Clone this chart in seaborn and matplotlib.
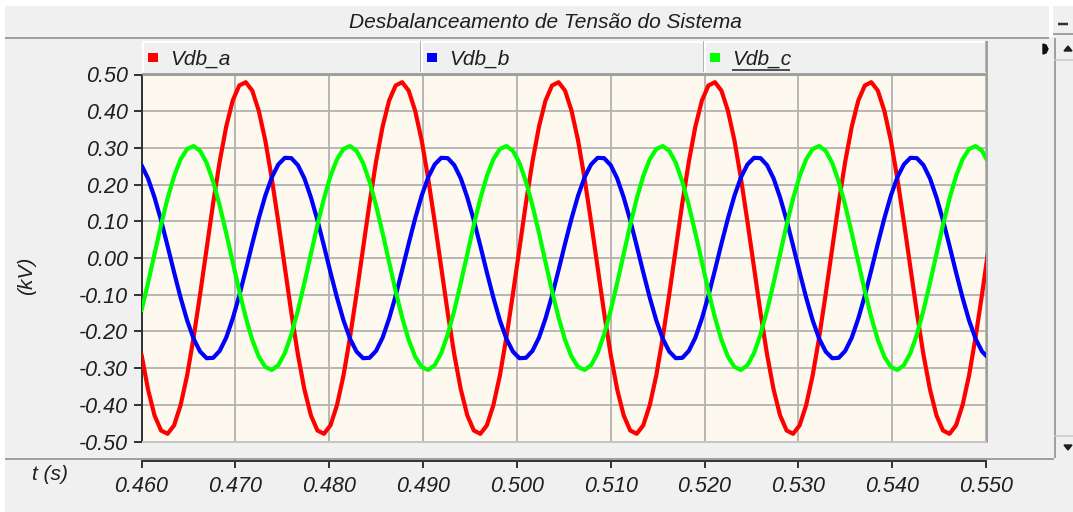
import numpy as np
import pandas as pd
import matplotlib
matplotlib.use("Agg")
import matplotlib.pyplot as plt
from matplotlib.patches import Rectangle, Polygon
from matplotlib.lines import Line2D
import seaborn as sns

# ---------------------------------------------------------------- data
t_start = 0.460            # s, first stored sample
sample_step = 1.0 / 1440   # s, output interval of the simulation

vdb_a = [
    -0.263, -0.358, -0.429, -0.470, -0.479, -0.456, -0.401, -0.320, -0.216, -0.098, 0.027, 0.150,
    0.263, 0.358, 0.429, 0.470, 0.479, 0.456, 0.401, 0.320, 0.216, 0.098, -0.027, -0.150,
    -0.263, -0.358, -0.429, -0.470, -0.479, -0.456, -0.401, -0.320, -0.216, -0.098, 0.027, 0.150,
    0.263, 0.358, 0.429, 0.470, 0.479, 0.456, 0.401, 0.320, 0.216, 0.098, -0.027, -0.150,
    -0.263, -0.358, -0.429, -0.470, -0.479, -0.456, -0.401, -0.320, -0.216, -0.098, 0.027, 0.150,
    0.263, 0.358, 0.429, 0.470, 0.479, 0.456, 0.401, 0.320, 0.216, 0.098, -0.027, -0.150,
    -0.263, -0.358, -0.429, -0.470, -0.479, -0.456, -0.401, -0.320, -0.216, -0.098, 0.027, 0.150,
    0.263, 0.358, 0.429, 0.470, 0.479, 0.456, 0.401, 0.320, 0.216, 0.098, -0.027, -0.150,
    -0.263, -0.358, -0.429, -0.470, -0.479, -0.456, -0.401, -0.320, -0.216, -0.098, 0.027, 0.150,
    0.263, 0.358, 0.429, 0.470, 0.479, 0.456, 0.401, 0.320, 0.216, 0.098, -0.027, -0.150,
    -0.263, -0.358, -0.429, -0.470, -0.479, -0.456, -0.401, -0.320, -0.216, -0.098, 0.027,
]

vdb_b = [
    0.253, 0.217, 0.165, 0.103, 0.033, -0.039, -0.108, -0.170, -0.220, -0.255, -0.273, -0.272,
    -0.253, -0.217, -0.165, -0.103, -0.033, 0.039, 0.108, 0.170, 0.220, 0.255, 0.273, 0.272,
    0.253, 0.217, 0.165, 0.103, 0.033, -0.039, -0.108, -0.170, -0.220, -0.255, -0.273, -0.272,
    -0.253, -0.217, -0.165, -0.103, -0.033, 0.039, 0.108, 0.170, 0.220, 0.255, 0.273, 0.272,
    0.253, 0.217, 0.165, 0.103, 0.033, -0.039, -0.108, -0.170, -0.220, -0.255, -0.273, -0.272,
    -0.253, -0.217, -0.165, -0.103, -0.033, 0.039, 0.108, 0.170, 0.220, 0.255, 0.273, 0.272,
    0.253, 0.217, 0.165, 0.103, 0.033, -0.039, -0.108, -0.170, -0.220, -0.255, -0.273, -0.272,
    -0.253, -0.217, -0.165, -0.103, -0.033, 0.039, 0.108, 0.170, 0.220, 0.255, 0.273, 0.272,
    0.253, 0.217, 0.165, 0.103, 0.033, -0.039, -0.108, -0.170, -0.220, -0.255, -0.273, -0.272,
    -0.253, -0.217, -0.165, -0.103, -0.033, 0.039, 0.108, 0.170, 0.220, 0.255, 0.273, 0.272,
    0.253, 0.217, 0.165, 0.103, 0.033, -0.039, -0.108, -0.170, -0.220, -0.255, -0.273,
]

vdb_c = [
    -0.143, -0.068, 0.011, 0.090, 0.162, 0.223, 0.269, 0.297, 0.305, 0.292, 0.259, 0.208,
    0.143, 0.068, -0.011, -0.090, -0.162, -0.223, -0.269, -0.297, -0.305, -0.292, -0.259, -0.208,
    -0.143, -0.068, 0.011, 0.090, 0.162, 0.223, 0.269, 0.297, 0.305, 0.292, 0.259, 0.208,
    0.143, 0.068, -0.011, -0.090, -0.162, -0.223, -0.269, -0.297, -0.305, -0.292, -0.259, -0.208,
    -0.143, -0.068, 0.011, 0.090, 0.162, 0.223, 0.269, 0.297, 0.305, 0.292, 0.259, 0.208,
    0.143, 0.068, -0.011, -0.090, -0.162, -0.223, -0.269, -0.297, -0.305, -0.292, -0.259, -0.208,
    -0.143, -0.068, 0.011, 0.090, 0.162, 0.223, 0.269, 0.297, 0.305, 0.292, 0.259, 0.208,
    0.143, 0.068, -0.011, -0.090, -0.162, -0.223, -0.269, -0.297, -0.305, -0.292, -0.259, -0.208,
    -0.143, -0.068, 0.011, 0.090, 0.162, 0.223, 0.269, 0.297, 0.305, 0.292, 0.259, 0.208,
    0.143, 0.068, -0.011, -0.090, -0.162, -0.223, -0.269, -0.297, -0.305, -0.292, -0.259, -0.208,
    -0.143, -0.068, 0.011, 0.090, 0.162, 0.223, 0.269, 0.297, 0.305, 0.292, 0.259,
]

series_names = ["Vdb_a", "Vdb_b", "Vdb_c"]
series_colors = ["#ff0000", "#0000ff", "#00ff00"]
y_ticks = [0.50, 0.40, 0.30, 0.20, 0.10, 0.00, -0.10, -0.20, -0.30, -0.40, -0.50]
x_ticks = [0.460, 0.470, 0.480, 0.490, 0.500, 0.510, 0.520, 0.530, 0.540, 0.550]
title = "Desbalanceamento de Tensão do Sistema"
y_label = "(kV)"
x_label = "t (s)"

# ---------------------------------------------------------------- style
sns.set_theme(style="white")
plt.rcParams["font.family"] = ["Liberation Sans", "DejaVu Sans"]

W, H = 1073, 512
PANEL = "#f0f0f0"
EDGE = "#a0a0a0"
INK = "#1e1e1e"
PLOT_BG = "#fdf9ef"
GRID = "#b2b2b2"
FS = 15
TICK_FS = 15.5


def fx(x):
    return x / W


def fy(y):
    return 1 - y / H


def pline(fig, x0, y0, x1, y1, color=EDGE, lw_px=2, z=5):
    fig.add_artist(Line2D([fx(x0), fx(x1)], [fy(y0), fy(y1)], color=color,
                          lw=lw_px * 0.72, transform=fig.transFigure, zorder=z,
                          solid_capstyle="butt"))


def prect(fig, x0, y0, x1, y1, color, z=1):
    fig.add_artist(Rectangle((fx(x0), fy(y1)), fx(x1) - fx(x0), fy(y0) - fy(y1),
                             facecolor=color, edgecolor="none",
                             transform=fig.transFigure, zorder=z))


def ptext(fig, x, y, s, **kw):
    kw.setdefault("fontsize", FS)
    kw.setdefault("color", INK)
    kw.setdefault("style", "italic")
    fig.text(fx(x), fy(y), s, transform=fig.transFigure, **kw)


fig = plt.figure(figsize=(W / 100, H / 100), dpi=100, facecolor="white")

# window panel
prect(fig, 5, 6, W, H, PANEL, z=0)
prect(fig, 1049, 0, 1053, 37, "white", z=1)

# title bar
pline(fig, 5, 37.5, 1049, 37.5, EDGE, 2)
ptext(fig, 545, 22, title, ha="center", va="center")

# minimise button
pline(fig, 1053, 34, W, 34, EDGE, 2)
pline(fig, 1058, 23.5, 1068, 23.5, "#303030", 2.5)

# scroll bar on the right
pline(fig, 1054.5, 38, 1054.5, 458, EDGE, 2)
pline(fig, 1054, 60, W, 60, "#c8c8c8", 1.5)
pline(fig, 1054, 436, W, 436, "#c8c8c8", 1.5)
fig.add_artist(Polygon([[fx(1064), fy(51)], [fx(1072), fy(51)], [fx(1068), fy(46)]],
                       closed=True, color="#202020", transform=fig.transFigure, zorder=6))
fig.add_artist(Polygon([[fx(1064), fy(445)], [fx(1072), fy(445)], [fx(1068), fy(450)]],
                       closed=True, color="#202020", transform=fig.transFigure, zorder=6))
fig.add_artist(Polygon([[fx(1043), fy(44)], [fx(1046), fy(45)], [fx(1048), fy(49)],
                        [fx(1046), fy(53)], [fx(1043), fy(54)]],
                       closed=True, color="#101010", transform=fig.transFigure, zorder=6))

# separator above the time axis
pline(fig, 5, 459, 1054, 459, EDGE, 2)

# ---------------------------------------------------------------- plot
left, right, top, bottom = 141.5, 986.0, 74.5, 441.5
ax = fig.add_axes([fx(left), fy(bottom), fx(right) - fx(left), fy(top) - fy(bottom)])
ax.set_facecolor(PLOT_BG)

t = t_start + sample_step * np.arange(len(vdb_a))
df = pd.concat([
    pd.DataFrame({"t": t, "valor": vals, "serie": name})
    for name, vals in zip(series_names, [vdb_a, vdb_b, vdb_c])
], ignore_index=True)

sns.lineplot(data=df, x="t", y="valor", hue="serie", hue_order=series_names,
             palette=dict(zip(series_names, series_colors)), estimator=None,
             sort=False, linewidth=3.0, legend=False, ax=ax, zorder=3)

ax.set_xlim(x_ticks[0], x_ticks[-1])
ax.set_ylim(-0.5, 0.5)
ax.set_xlabel("")
ax.set_ylabel("")
ax.grid(True, color=GRID, lw=1.3, zorder=1)
ax.set_axisbelow(True)

ax.spines["left"].set_color("#303030")
ax.spines["left"].set_linewidth(1.4)
ax.spines["bottom"].set_position(("outward", 14))
ax.spines["bottom"].set_color("#303030")
ax.spines["bottom"].set_linewidth(1.4)
ax.spines["top"].set_visible(False)
ax.spines["right"].set_visible(False)

ax.set_xticks(x_ticks)
ax.set_xticklabels([f"{v:.3f}" for v in x_ticks], fontstyle="italic",
                   fontsize=TICK_FS, color=INK)
ax.set_yticks(y_ticks)
ax.set_yticklabels([f"{v:.2f}" for v in y_ticks], fontstyle="italic",
                   fontsize=TICK_FS, color=INK)
ax.tick_params(axis="y", direction="out", length=6, width=1.4, color="#303030",
               pad=3.5, left=True, labelsize=TICK_FS)
ax.tick_params(axis="x", direction="out", length=5, width=1.4, color="#303030",
               pad=6, bottom=True, labelsize=TICK_FS)

# plot frame (top, right, bottom edges)
pline(fig, left, 73.5, right + 1, 73.5, EDGE, 3, z=4)
pline(fig, right + 0.5, 41, right + 0.5, bottom + 1, EDGE, 2, z=4)
pline(fig, left, bottom + 0.5, right + 1, bottom + 0.5, "#c4c4c4", 2, z=4)

# ---------------------------------------------------------------- legend header
cells = [(142, 421), (421, 704), (704, 986)]
pline(fig, 142, 41.5, 986, 41.5, "white", 2, z=4)
for (c0, c1), name, color in zip(cells, series_names, series_colors):
    pline(fig, c0 + 1, 41, c0 + 1, 72, "white", 2, z=4)
    pline(fig, c1 - 0.5, 41, c1 - 0.5, 72, EDGE, 1.5, z=4)
    prect(fig, c0 + 6, 53, c0 + 16, 62, color, z=5)
    ptext(fig, c0 + 28, 59, name, ha="left", va="center")
# selected trace is underlined
pline(fig, 732, 70, 790, 70, INK, 1.5, z=5)

# axis captions
ptext(fig, 27, 276, y_label, ha="center", va="center", rotation=90)
ptext(fig, 50, 475, x_label, ha="center", va="center")

fig.savefig("out.png", dpi=100, facecolor="white")
